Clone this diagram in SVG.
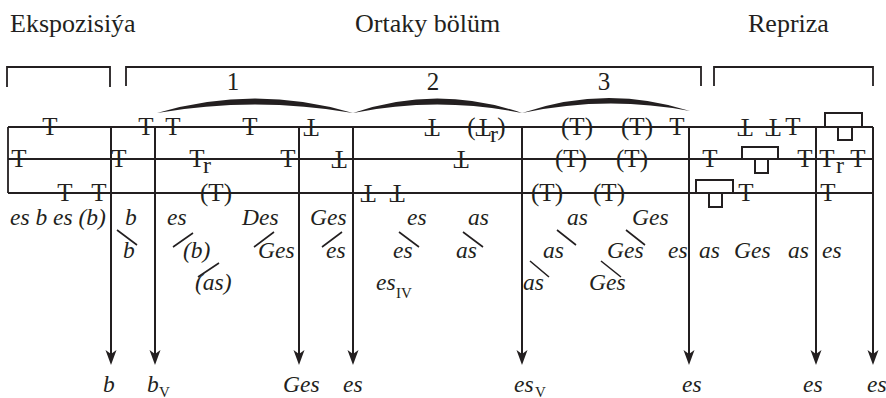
<svg xmlns="http://www.w3.org/2000/svg" width="886" height="398" viewBox="0 0 886 398" font-family="'Liberation Serif', 'DejaVu Serif', serif">
<style>
text{fill:#231f20;font-family:'Liberation Serif','DejaVu Serif',serif}
.ttl{font-size:26px}
.num{font-size:25px;text-anchor:middle}
.sym{font-size:25px;text-anchor:middle}
.r{font-size:24px}
.it{font-size:23.5px;font-style:italic}
.sub{font-size:15px}
.ln{stroke:#231f20;stroke-width:1.8;fill:none}
.sl{stroke:#231f20;stroke-width:1.6;fill:none}
.box{stroke:#231f20;stroke-width:2;fill:#fff}
.arr{stroke:#231f20;stroke-width:2;fill:none;marker-end:url(#ah)}
.slur{fill:#231f20;stroke:none}
</style>
<defs>
<marker id="ah" viewBox="0 -6 16 12" markerWidth="16" markerHeight="12" refX="10" refY="0" orient="auto" markerUnits="userSpaceOnUse">
<path d="M0,-5.5 L15,0 L0,5.5 L4,0 Z" fill="#231f20"/>
</marker>
</defs>

<g id="sections">
<text class="ttl" x="10" y="32">Ekspozisiýa</text>
<text class="ttl" x="355" y="32">Ortaky bölüm</text>
<text class="ttl" x="748" y="32">Repriza</text>
<path class="ln" d="M7,87 V67 H110 V87"/>
<path class="ln" d="M126,86 V67 H701 V86"/>
<path class="ln" d="M714,86 V67 H873 V86"/>
<text class="num" x="233" y="90">1</text>
<text class="num" x="433" y="90">2</text>
<text class="num" x="604" y="90">3</text>
<path class="slur" d="M157,113 Q255,84 353,113 Q255,96 157,113 Z"/>
<path class="slur" d="M353,113 Q437,84 522,113 Q437,96 353,113 Z"/>
<path class="slur" d="M522,113 Q606,84 690,111 Q606,95 522,113 Z"/>
</g>

<g id="staff">
<path class="ln" d="M8,127 H873 M8,159 H873 M8,193 H873 M8,127 V193"/>
</g>

<g id="connectors">
<line class="arr" x1="111" y1="127" x2="111" y2="360"/>
<line class="arr" x1="155" y1="127" x2="155" y2="360"/>
<line class="arr" x1="299" y1="127" x2="299" y2="360"/>
<line class="arr" x1="353" y1="127" x2="353" y2="360"/>
<line class="arr" x1="522" y1="127" x2="522" y2="360"/>
<line class="arr" x1="689" y1="127" x2="689" y2="360"/>
<line class="arr" x1="816" y1="127" x2="816" y2="360"/>
<line class="arr" x1="873" y1="127" x2="873" y2="360"/>
</g>

<g id="symbols-top">
<text class="sym" x="50" y="135">T</text>
<text class="sym" x="146" y="135">T</text>
<text class="sym" x="173" y="135">T</text>
<text class="sym" x="250" y="135">T</text>
<text class="sym" x="311" y="135" transform="rotate(180 311 127)">T</text>
<text class="sym" x="432" y="135" transform="rotate(180 432 127)">T</text>
<text class="sym" x="471.5" y="135">(</text>
<text class="sym" x="483" y="135" transform="rotate(180 483 127)">T</text>
<text class="r" x="490" y="142">r</text>
<text class="sym" x="501.5" y="135">)</text>
<text class="sym" x="577" y="135">(T)</text>
<text class="sym" x="637" y="135">(T)</text>
<text class="sym" x="677" y="135">T</text>
<text class="sym" x="745" y="135" transform="rotate(180 745 127)">T</text>
<text class="sym" x="773" y="135" transform="rotate(180 773 127)">T</text>
<text class="sym" x="793" y="135">T</text>
<rect class="box" x="825" y="113" width="37" height="14"/>
<rect class="box" x="838" y="127" width="14" height="13"/>
</g>

<g id="symbols-mid">
<text class="sym" x="19" y="167">T</text>
<text class="sym" x="119" y="167">T</text>
<text class="sym" x="197" y="167">T</text>
<text class="r" x="203" y="173">r</text>
<text class="sym" x="288" y="167">T</text>
<text class="sym" x="339" y="167" transform="rotate(180 339 159)">T</text>
<text class="sym" x="461" y="167" transform="rotate(180 461 159)">T</text>
<text class="sym" x="571" y="167">(T)</text>
<text class="sym" x="632" y="167">(T)</text>
<text class="sym" x="710" y="167">T</text>
<rect class="box" x="742" y="147" width="36" height="12"/>
<rect class="box" x="755" y="159" width="13" height="14"/>
<text class="sym" x="805" y="167">T</text>
<text class="sym" x="827" y="167">T</text>
<text class="r" x="836" y="173">r</text>
<text class="sym" x="858" y="167">T</text>
</g>

<g id="symbols-bottom">
<text class="sym" x="65" y="201">T</text>
<text class="sym" x="99" y="201">T</text>
<text class="sym" x="216" y="201">(T)</text>
<text class="sym" x="368" y="201" transform="rotate(180 368 193)">T</text>
<text class="sym" x="397" y="201" transform="rotate(180 397 193)">T</text>
<text class="sym" x="547" y="201">(T)</text>
<text class="sym" x="609" y="201">(T)</text>
<rect class="box" x="696" y="180" width="37" height="13"/>
<rect class="box" x="709" y="193" width="13" height="14"/>
<text class="sym" x="746" y="201">T</text>
<text class="sym" x="828" y="201">T</text>
</g>

<g id="labels">
<text class="it" x="10" y="225">es b es (b)</text>
<text class="it" x="125" y="225">b</text>
<text class="it" x="167" y="225">es</text>
<text class="it" x="242" y="225">Des</text>
<text class="it" x="310" y="225">Ges</text>
<text class="it" x="407" y="225">es</text>
<text class="it" x="468" y="225">as</text>
<text class="it" x="567" y="225">as</text>
<text class="it" x="632" y="225">Ges</text>

<text class="it" x="123" y="258">b</text>
<text class="it" x="183" y="258">(b)</text>
<text class="it" x="258" y="258">Ges</text>
<text class="it" x="326" y="258">es</text>
<text class="it" x="393" y="258">es</text>
<text class="it" x="456" y="258">as</text>
<text class="it" x="543" y="258">as</text>
<text class="it" x="607" y="258">Ges</text>
<text class="it" x="668" y="258">es</text>
<text class="it" x="699" y="258">as</text>
<text class="it" x="734" y="258">Ges</text>
<text class="it" x="788" y="258">as</text>
<text class="it" x="822" y="258">es</text>

<text class="it" x="195" y="290">(as)</text>
<text class="it" x="376" y="290">es</text>
<text class="sub" x="396" y="298">IV</text>
<text class="it" x="523" y="290">as</text>
<text class="it" x="589" y="290">Ges</text>

<path class="sl" d="M117,230 L137,245 M173,247 L193,233 M198,277 L219,263 M254,247 L274,232 M322,247 L342,232 M399,232 L419,247 M463,232 L483,247 M557,230 L576,245 M530,261 L549,277 M626,230 L645,245 M601,261 L621,277"/>
</g>

<g id="results">
<text class="it" x="103" y="392">b</text>
<text class="it" x="147" y="392">b</text>
<text class="sub" x="159" y="397">V</text>
<text class="it" x="283" y="392">Ges</text>
<text class="it" x="343" y="392">es</text>
<text class="it" x="514" y="392">es</text>
<text class="sub" x="535" y="397">V</text>
<text class="it" x="682" y="392">es</text>
<text class="it" x="803" y="392">es</text>
<text class="it" x="867" y="392">es</text>
</g>
</svg>
